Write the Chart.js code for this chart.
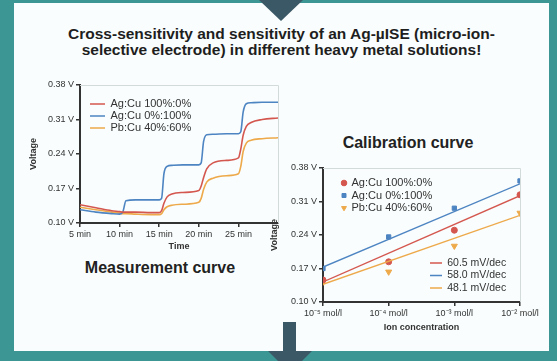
<!DOCTYPE html>
<html><head><meta charset="utf-8">
<script src="https://cdn.jsdelivr.net/npm/chart.js@4"></script>
<style>
html,body{margin:0;padding:0;width:557px;height:361px;overflow:hidden;background:#3c9794;font-family:"Liberation Sans",Arial,sans-serif}
#panel{position:absolute;left:14px;top:3px;width:535px;height:348px;background:#f9fdfd}
#topArrow{position:absolute;left:259px;top:0;width:0;height:0;border-left:22px solid transparent;border-right:22px solid transparent;border-top:21px solid #3b5866}
#stem{position:absolute;left:283px;top:322px;width:13px;height:29px;background:#3b5866}
#head{position:absolute;left:268px;top:351px;width:0;height:0;border-left:22px solid transparent;border-right:22px solid transparent;border-top:22px solid #3b5866}
#heading{position:absolute;left:14px;width:535px;top:26px;text-align:center;font:bold 15.5px/16px "Liberation Sans",Arial,sans-serif;color:#1e1e1e}
.cap{position:absolute;width:200px;text-align:center;font:bold 16px/18px "Liberation Sans",Arial,sans-serif;color:#222}
canvas{position:absolute}
</style></head><body>
<div id="panel"></div>
<div id="topArrow"></div>
<div id="stem"></div>
<div id="head"></div>
<div id="heading">Cross-sensitivity and sensitivity of an Ag-µISE (micro-ion-<br>selective electrode) in different heavy metal solutions!</div>
<div class="cap" style="left:60px;top:259px">Measurement curve</div>
<div class="cap" style="left:308px;top:134px">Calibration curve</div>
<canvas id="meas" width="276" height="182" style="left:22px;top:75px;width:276px;height:182px"></canvas>
<canvas id="cal" width="283" height="210" style="left:266px;top:130px;width:283px;height:210px"></canvas>
<canvas id="fit" width="283" height="210" style="left:266px;top:130px;width:283px;height:210px"></canvas>
<script>
// ---- Measurement curve data ----
const times = [5, 7, 9, 10, 10.4, 10.8, 12, 14, 15, 15.3, 15.6, 16, 16.6, 18, 20, 20.3, 20.6, 21, 21.8, 23.5, 25, 25.3, 25.6, 26, 26.6, 28, 30];
const agCu100_0 = [0.137, 0.131, 0.125, 0.123, 0.122, 0.122, 0.122, 0.121, 0.121, 0.125, 0.140, 0.153, 0.159, 0.162, 0.166, 0.175, 0.192, 0.210, 0.222, 0.227, 0.232, 0.250, 0.278, 0.296, 0.304, 0.310, 0.313];
const agCu0_100 = [0.127, 0.122, 0.119, 0.118, 0.122, 0.145, 0.147, 0.147, 0.147, 0.150, 0.200, 0.215, 0.217, 0.218, 0.218, 0.222, 0.265, 0.279, 0.280, 0.281, 0.281, 0.285, 0.325, 0.342, 0.344, 0.345, 0.345];
const pbCu40_60 = [0.132, 0.127, 0.122, 0.120, 0.119, 0.119, 0.118, 0.117, 0.117, 0.119, 0.127, 0.133, 0.136, 0.138, 0.142, 0.150, 0.168, 0.183, 0.191, 0.196, 0.200, 0.215, 0.245, 0.262, 0.268, 0.271, 0.273];
const timeTicks = [5, 10, 15, 20, 25];
const voltTicks = [0.10, 0.17, 0.24, 0.31, 0.38];
const seriesNames = ['Ag:Cu 100%:0%', 'Ag:Cu 0%:100%', 'Pb:Cu 40%:60%'];

// ---- Calibration curve data ----
const concPos = [0, 1, 2, 3];
const concLabels = ['10\u207B\u2075 mol/l', '10\u207B\u2074 mol/l', '10\u207B\u00B3 mol/l', '10\u207B\u00B2 mol/l'];
const calAgCu100_0 = [0.146, 0.184, 0.250, 0.324];
const calAgCu0_100 = [0.170, 0.236, 0.296, 0.353];
const calPbCu40_60 = [0.142, 0.163, 0.217, 0.286];
const fitEnds = [0, 3];
const fitAgCu100_0 = [0.142, 0.322];
const fitAgCu0_100 = [0.173, 0.347];
const fitPbCu40_60 = [0.137, 0.281];
const fitNames = ['60.5 mV/dec', '58.0 mV/dec', '48.1 mV/dec'];

const RED = '#d4574f', BLUE = '#4d84c2', ORANGE = '#eda94a';

Chart.defaults.font.family = '"Liberation Sans", Arial, sans-serif';
Chart.defaults.color = '#333';
Chart.defaults.animation = false;

const legendShift = {
  id: 'legendShift',
  beforeDraw(chart, args, opts) {
    const lg = chart.legend; if (!lg) return;
    const ca = chart.chartArea;
    lg.left = ca.left + (opts.dx || 0);
    lg.top = ca.top + (opts.dy || 0);
    lg.right = lg.left + lg.width;
    lg.bottom = lg.top + lg.height;
  }
};
const frame = {
  id: 'frame',
  beforeDatasetsDraw(chart, args, opts) {
    if (!opts.show) return;
    const {ctx, chartArea: ca} = chart;
    ctx.save();
    ctx.strokeStyle = '#d3dada';
    ctx.lineWidth = 1;
    ctx.beginPath();
    ctx.moveTo(ca.left, ca.top + 0.5);
    ctx.lineTo(ca.right + 0.5, ca.top + 0.5);
    ctx.lineTo(ca.right + 0.5, ca.bottom);
    ctx.stroke();
    ctx.restore();
  }
};
Chart.register(legendShift, frame);

const toXY = (xs, ys) => xs.map((x, i) => ({x, y: ys[i]}));
const axisGrid = {display: true, drawOnChartArea: false, drawTicks: true, tickLength: 4, tickColor: '#333', lineWidth: 1.5};
const axisBorder = {display: true, color: '#333', width: 2};

// ---- Measurement chart ----
new Chart(document.getElementById('meas'), {
  type: 'line',
  data: {
    datasets: [
      {label: seriesNames[0], data: toXY(times, agCu100_0), borderColor: RED, backgroundColor: RED},
      {label: seriesNames[1], data: toXY(times, agCu0_100), borderColor: BLUE, backgroundColor: BLUE},
      {label: seriesNames[2], data: toXY(times, pbCu40_60), borderColor: ORANGE, backgroundColor: ORANGE}
    ].map(d => Object.assign(d, {borderWidth: 1.6, pointRadius: 0, cubicInterpolationMode: 'monotone'}))
  },
  options: {
    responsive: false,
    layout: {padding: {top: 10, right: 20, left: 0, bottom: 0}},
    scales: {
      x: {
        type: 'linear', min: 5, max: 30,
        afterBuildTicks: s => { s.ticks = timeTicks.map(v => ({value: v})); },
        afterFit: s => { s.height = 34; },
        ticks: {callback: v => v + ' min', font: {size: 9}, padding: 2, maxRotation: 0},
        grid: axisGrid, border: axisBorder,
        title: {display: true, text: 'Time', font: {size: 9, weight: 'bold'}, padding: {top: 0, bottom: 5}}
      },
      y: {
        min: 0.10, max: 0.38,
        afterBuildTicks: s => { s.ticks = voltTicks.map(v => ({value: v})); },
        afterFit: s => { s.width = 58; },
        ticks: {callback: v => v.toFixed(2) + ' V', font: {size: 9}, padding: 2},
        grid: axisGrid, border: axisBorder,
        title: {display: true, text: 'Voltage', font: {size: 9, weight: 'bold'}, padding: {top: 6, bottom: 0}}
      }
    },
    plugins: {
      frame: {show: true},
      legendShift: {dx: 9, dy: 12.5},
      legend: {
        position: 'chartArea', align: 'start',
        labels: {usePointStyle: true, pointStyle: 'line', pointStyleWidth: 15, padding: 1, font: {size: 11}, color: '#333'}
      },
      title: {display: false},
      tooltip: {enabled: false}
    }
  }
});

// ---- Calibration chart (points) ----
new Chart(document.getElementById('cal'), {
  type: 'scatter',
  data: {
    datasets: [
      {label: seriesNames[0], data: toXY(concPos, calAgCu100_0), pointStyle: 'circle', pointRadius: 3, backgroundColor: RED, borderColor: RED},
      {label: seriesNames[1], data: toXY(concPos, calAgCu0_100), pointStyle: 'rect', pointRadius: 3, backgroundColor: BLUE, borderColor: BLUE},
      {label: seriesNames[2], data: toXY(concPos, calPbCu40_60), pointStyle: 'triangle', rotation: 180, pointRadius: 3.5, backgroundColor: ORANGE, borderColor: ORANGE}
    ]
  },
  options: {
    responsive: false,
    layout: {padding: {top: 38, right: 29, left: 0, bottom: 0}},
    scales: {
      x: {
        type: 'linear', min: 0, max: 3,
        afterBuildTicks: s => { s.ticks = concPos.map(v => ({value: v})); },
        afterFit: s => { s.height = 38; },
        ticks: {callback: v => concLabels[v], font: {size: 9}, padding: 2, maxRotation: 0},
        grid: axisGrid, border: axisBorder,
        title: {display: true, text: 'Ion concentration', font: {size: 9, weight: 'bold'}, padding: {top: 0, bottom: 7}}
      },
      y: {
        min: 0.10, max: 0.38,
        afterBuildTicks: s => { s.ticks = voltTicks.map(v => ({value: v})); },
        afterFit: s => { s.width = 57; },
        ticks: {callback: v => v.toFixed(2) + ' V', font: {size: 9}, padding: 2},
        grid: axisGrid, border: axisBorder,
        title: {display: true, text: 'Voltage', font: {size: 9, weight: 'bold'}, padding: {top: 3, bottom: 0}}
      }
    },
    plugins: {
      frame: {show: true},
      legendShift: {dx: 17.5, dy: 8},
      legend: {
        position: 'chartArea', align: 'start',
        labels: {usePointStyle: true, boxWidth: 4, boxHeight: 4, padding: 1.5, font: {size: 11}, color: '#333'}
      },
      title: {display: false},
      tooltip: {enabled: false}
    }
  }
});

// ---- Calibration chart (fit lines overlay) ----
new Chart(document.getElementById('fit'), {
  type: 'line',
  data: {
    datasets: [
      {label: fitNames[0], data: toXY(fitEnds, fitAgCu100_0), borderColor: RED, backgroundColor: RED},
      {label: fitNames[1], data: toXY(fitEnds, fitAgCu0_100), borderColor: BLUE, backgroundColor: BLUE},
      {label: fitNames[2], data: toXY(fitEnds, fitPbCu40_60), borderColor: ORANGE, backgroundColor: ORANGE}
    ].map(d => Object.assign(d, {borderWidth: 1.4, pointRadius: 0}))
  },
  options: {
    responsive: false,
    layout: {padding: {top: 38, right: 29, left: 57, bottom: 38}},
    scales: {
      x: {type: 'linear', min: 0, max: 3, display: false},
      y: {min: 0.10, max: 0.38, display: false}
    },
    plugins: {
      frame: {show: false},
      legendShift: {dx: 105, dy: 87.75},
      legend: {
        position: 'chartArea', align: 'start',
        labels: {usePointStyle: true, pointStyle: 'line', pointStyleWidth: 12, padding: 2, font: {size: 10.5}, color: '#333'}
      },
      title: {display: false},
      tooltip: {enabled: false}
    }
  }
});
</script>
</body></html>
